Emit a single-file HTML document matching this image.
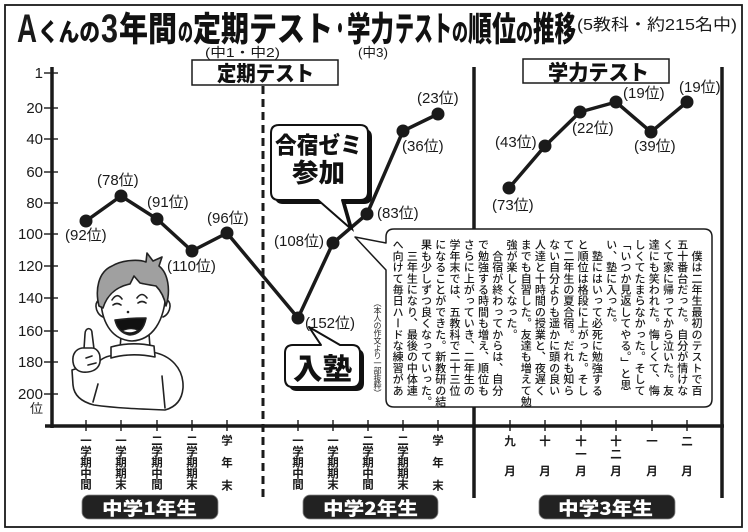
<!DOCTYPE html>
<html><head><meta charset="utf-8">
<style>
html,body{margin:0;padding:0;background:#fff;}
#c{position:relative;width:748px;height:532px;overflow:hidden;background:#fff;}
svg{position:absolute;left:0;top:0;}
.t{font-family:"Liberation Sans","Noto Sans CJK JP",sans-serif;fill:#1a1a1a;}
.h{font-family:"Noto Sans CJK JP","Liberation Sans",sans-serif;font-weight:900;fill:#111;}
.l{font-family:"Liberation Sans","Noto Sans CJK JP",sans-serif;font-size:15px;fill:#1a1a1a;}
.v{font-family:"Noto Sans CJK JP",sans-serif;font-size:11.5px;font-weight:bold;fill:#1a1a1a;text-anchor:middle;}
#essay{position:absolute;left:391px;top:239px;width:313px;height:170px;writing-mode:vertical-rl;font-family:"Noto Sans CJK JP",sans-serif;font-size:11px;font-weight:500;line-height:14.24px;letter-spacing:0.2px;color:#1a1a1a;white-space:nowrap;}
#note{position:absolute;left:372px;top:299px;width:10px;height:100px;writing-mode:vertical-rl;font-family:"Noto Sans CJK JP",sans-serif;font-size:8px;line-height:10px;letter-spacing:-0.5px;color:#222;white-space:nowrap;}
</style></head><body>
<div id="c">
<svg width="748" height="532" viewBox="0 0 748 532" xmlns="http://www.w3.org/2000/svg">
<rect x="5" y="5" width="737" height="522" fill="#fff" stroke="#1a1a1a" stroke-width="1.8"/>

<text class="t" x="17" y="42" font-size="40" font-weight="bold" textLength="20" lengthAdjust="spacingAndGlyphs">A</text>
<text class="h" x="38" y="41" font-size="25" textLength="62" lengthAdjust="spacingAndGlyphs">くんの</text>
<text class="t" x="101" y="42" font-size="40" font-weight="bold" textLength="17" lengthAdjust="spacingAndGlyphs">3</text>
<text class="h" x="119" y="41" font-size="34" textLength="58" lengthAdjust="spacingAndGlyphs">年間</text>
<text class="h" x="178" y="41" font-size="25" textLength="15" lengthAdjust="spacingAndGlyphs">の</text>
<text class="h" x="193" y="41" font-size="34" textLength="140" lengthAdjust="spacingAndGlyphs">定期テスト</text>
<text class="h" x="333" y="41" font-size="34" textLength="14" lengthAdjust="spacingAndGlyphs">・</text>
<text class="h" x="347" y="41" font-size="34" textLength="47" lengthAdjust="spacingAndGlyphs">学力</text>
<text class="h" x="395" y="41" font-size="34" textLength="57" lengthAdjust="spacingAndGlyphs">テスト</text>
<text class="h" x="452" y="41" font-size="25" textLength="16" lengthAdjust="spacingAndGlyphs">の</text>
<text class="h" x="468" y="41" font-size="34" textLength="48" lengthAdjust="spacingAndGlyphs">順位</text>
<text class="h" x="516" y="41" font-size="25" textLength="17" lengthAdjust="spacingAndGlyphs">の</text>
<text class="h" x="533" y="41" font-size="34" textLength="43" lengthAdjust="spacingAndGlyphs">推移</text>
<text class="t" x="577" y="30" font-size="16" textLength="160" lengthAdjust="spacingAndGlyphs">(5教科・約215名中)</text>

<text class="t" x="205" y="57" font-size="13" textLength="75" lengthAdjust="spacingAndGlyphs">(中1・中2)</text>
<text class="t" x="358" y="57" font-size="13" textLength="30" lengthAdjust="spacingAndGlyphs">(中3)</text>

<rect x="192" y="60" width="146" height="25" fill="#fff" stroke="#1a1a1a" stroke-width="1.5"/>
<text class="h" x="217" y="81" font-size="21" textLength="97" lengthAdjust="spacingAndGlyphs">定期テスト</text>
<rect x="523" y="59" width="146" height="24" fill="#fff" stroke="#1a1a1a" stroke-width="1.5"/>
<text class="h" x="548" y="80" font-size="21" textLength="101" lengthAdjust="spacingAndGlyphs">学力テスト</text>

<line x1="52" y1="67" x2="52" y2="428" stroke="#1a1a1a" stroke-width="3.5"/>
<line x1="45" y1="426" x2="724" y2="426" stroke="#1a1a1a" stroke-width="3.5"/>
<line x1="474" y1="67" x2="474" y2="498" stroke="#1a1a1a" stroke-width="3.5"/>
<line x1="722" y1="67" x2="722" y2="498" stroke="#1a1a1a" stroke-width="3.5"/>
<line x1="263" y1="86" x2="263" y2="498" stroke="#1a1a1a" stroke-width="3" stroke-dasharray="8,5"/>

<g stroke="#1a1a1a" stroke-width="1.4">
<line x1="44" y1="73" x2="58" y2="73"/>
<line x1="44" y1="108" x2="58" y2="108"/>
<line x1="44" y1="139" x2="58" y2="139"/>
<line x1="44" y1="172" x2="58" y2="172"/>
<line x1="44" y1="203" x2="58" y2="203"/>
<line x1="44" y1="234" x2="58" y2="234"/>
<line x1="44" y1="266" x2="58" y2="266"/>
<line x1="44" y1="298" x2="58" y2="298"/>
<line x1="44" y1="331" x2="58" y2="331"/>
<line x1="44" y1="362" x2="58" y2="362"/>
<line x1="44" y1="394" x2="58" y2="394"/>
<line x1="86" y1="420" x2="86" y2="431"/>
<line x1="121" y1="420" x2="121" y2="431"/>
<line x1="157" y1="420" x2="157" y2="431"/>
<line x1="192" y1="420" x2="192" y2="431"/>
<line x1="227" y1="420" x2="227" y2="431"/>
<line x1="298" y1="420" x2="298" y2="431"/>
<line x1="333" y1="420" x2="333" y2="431"/>
<line x1="368" y1="420" x2="368" y2="431"/>
<line x1="403" y1="420" x2="403" y2="431"/>
<line x1="438" y1="420" x2="438" y2="431"/>
<line x1="510" y1="420" x2="510" y2="431"/>
<line x1="545" y1="420" x2="545" y2="431"/>
<line x1="581" y1="420" x2="581" y2="431"/>
<line x1="616" y1="420" x2="616" y2="431"/>
<line x1="652" y1="420" x2="652" y2="431"/>
<line x1="687" y1="420" x2="687" y2="431"/>
</g>
<g class="l" text-anchor="end">
<text x="43" y="78">1</text>
<text x="43" y="113">20</text>
<text x="43" y="144">40</text>
<text x="43" y="177">60</text>
<text x="43" y="208">80</text>
<text x="43" y="239">100</text>
<text x="43" y="271">120</text>
<text x="43" y="303">140</text>
<text x="43" y="336">160</text>
<text x="43" y="367">180</text>
<text x="43" y="399">200</text>
<text x="43" y="413" font-size="13">位</text>
</g>

<g stroke="#222" stroke-width="1.6" stroke-linecap="round" stroke-linejoin="round">
<path d="M98,362 C104,357 110,355 114,356 L152,352 C170,355 184,368 183,388 C182,400 176,407 165,410 C140,409 115,408 94,405 C82,402 74,396 73,385 L72,370 Z" fill="#fff"/>
<path d="M98,384 L93,402 M162,376 L165,408" fill="none"/>
<path d="M84,349 L85,334 C85,327 92,327 92,333 L94,349" fill="#fff"/>
<path d="M82,348 C76,349 72,354 73,362 C74,370 80,373 88,372 C96,371 101,366 100,358 C100,352 96,348 92,348 Z" fill="#fff"/>
<path d="M86,358 L92,356 M88,365 L96,363" fill="none"/>
<path d="M121,336 L120,349 L150,347 L149,334 Z" fill="#fff"/>
<path d="M111,347 C125,343 140,343 154,346 L155,357 C140,354 125,354 111,358 Z" fill="#fff"/>
<path d="M101,300 C94,299 94,313 103,317 M165,300 C172,299 172,313 163,317" fill="#fff"/>
<path d="M101,290 C99,322 112,340 132,341 C152,340 165,322 166,290 C160,268 140,262 132,262 C115,262 103,272 101,290 Z" fill="#fff"/>
<path d="M99,306 C95,290 98,272 112,266 C122,260 138,259 146,262 L147,253 L153,261 L162,257 L159,266 C168,273 171,290 166,306 C164,296 160,290 156,286 C150,285 144,284 140,283 L134,276 L130,284 C120,286 108,292 103,308 Z" fill="#a0a0a0"/>
<path d="M112,300 Q117,292 122,299 M113,305 Q117,302 121,305 M137,298 Q142,291 147,298 M138,303 Q142,300 146,303" fill="none"/>
<circle cx="128" cy="312" r="1.3" fill="#222" stroke="none"/>
<path d="M115,320 Q130,318 146,318 Q143,334 130,335 Q118,333 115,320 Z" fill="#111"/>
<path d="M122,331 Q130,327 138,330 Q131,335 122,331 Z" fill="#fff" stroke-width="1"/>
</g>

<polyline points="86,221 121,196 157,219 192,251 227,233 298,318 333,243 367,214 403,131 438,114" fill="none" stroke="#1a1a1a" stroke-width="3.5" stroke-linejoin="round"/>
<polyline points="509,188 545,146 580,112 616,102 651,132 687,102" fill="none" stroke="#1a1a1a" stroke-width="3.5" stroke-linejoin="round"/>
<g fill="#1a1a1a">
<circle cx="86" cy="221" r="6.5"/><circle cx="121" cy="196" r="6.5"/><circle cx="157" cy="219" r="6.5"/>
<circle cx="192" cy="251" r="6.5"/><circle cx="227" cy="233" r="6.5"/><circle cx="298" cy="318" r="6.5"/>
<circle cx="333" cy="243" r="6.5"/><circle cx="367" cy="214" r="6.5"/><circle cx="403" cy="131" r="6.5"/>
<circle cx="438" cy="114" r="6.5"/>
<circle cx="509" cy="188" r="6.5"/><circle cx="545" cy="146" r="6.5"/><circle cx="580" cy="112" r="6.5"/>
<circle cx="616" cy="102" r="6.5"/><circle cx="651" cy="132" r="6.5"/><circle cx="687" cy="102" r="6.5"/>
</g>

<g class="l">
<text x="65" y="240">(92位)</text>
<text x="97" y="185">(78位)</text>
<text x="147" y="207">(91位)</text>
<text x="167" y="271">(110位)</text>
<text x="207" y="223">(96位)</text>
<text x="305" y="328">(152位)</text>
<text x="274" y="246">(108位)</text>
<text x="377" y="218">(83位)</text>
<text x="402" y="151">(36位)</text>
<text x="417" y="103">(23位)</text>
<text x="492" y="210">(73位)</text>
<text x="495" y="147">(43位)</text>
<text x="572" y="133">(22位)</text>
<text x="623" y="98">(19位)</text>
<text x="634" y="151">(39位)</text>
<text x="679" y="92">(19位)</text>
</g>

<path transform="translate(4,4)" d="M279,125 H360 Q368,125 368,133 V192 Q368,200 360,200 H342 L350,228 L318,200 H279 Q271,200 271,192 V133 Q271,125 279,125 Z" fill="#111"/>
<path d="M279,125 H360 Q368,125 368,133 V192 Q368,200 360,200 H342 L350,228 L318,200 H279 Q271,200 271,192 V133 Q271,125 279,125 Z" fill="#fff" stroke="#111" stroke-width="2" stroke-linejoin="round"/>
<text class="h" x="275" y="153" font-size="23" textLength="87" lengthAdjust="spacingAndGlyphs">合宿ゼミ</text>
<text class="h" x="292" y="182" font-size="26" textLength="53" lengthAdjust="spacingAndGlyphs">参加</text>

<path transform="translate(4,4)" d="M293,345 H321 L309,327 L340,345 H352 Q360,345 360,353 V379 Q360,387 352,387 H293 Q285,387 285,379 V353 Q285,345 293,345 Z" fill="#111"/>
<path d="M293,345 H321 L309,327 L340,345 H352 Q360,345 360,353 V379 Q360,387 352,387 H293 Q285,387 285,379 V353 Q285,345 293,345 Z" fill="#fff" stroke="#111" stroke-width="2" stroke-linejoin="round"/>
<text class="h" x="293" y="379" font-size="29" textLength="59" lengthAdjust="spacingAndGlyphs">入塾</text>

<path d="M394,229 H704 Q712,229 712,237 V399 Q712,407 704,407 H394 Q386,407 386,399 V270 L355,237 L386,243 V237 Q386,229 394,229 Z" fill="#fff" stroke="#1a1a1a" stroke-width="1.5" stroke-linejoin="round"/>

<g class="v">
<text x="86" y="444.5">一</text><text x="86" y="455.5">学</text><text x="86" y="466.5">期</text><text x="86" y="477.5">中</text><text x="86" y="488.5">間</text>
<text x="121" y="444.5">一</text><text x="121" y="455.5">学</text><text x="121" y="466.5">期</text><text x="121" y="477.5">期</text><text x="121" y="488.5">末</text>
<text x="157" y="444.5">二</text><text x="157" y="455.5">学</text><text x="157" y="466.5">期</text><text x="157" y="477.5">中</text><text x="157" y="488.5">間</text>
<text x="192" y="444.5">二</text><text x="192" y="455.5">学</text><text x="192" y="466.5">期</text><text x="192" y="477.5">期</text><text x="192" y="488.5">末</text>
<text x="227" y="444.5">学</text><text x="227" y="466.5">年</text><text x="227" y="489.5">末</text>
<text x="298" y="444.5">一</text><text x="298" y="455.5">学</text><text x="298" y="466.5">期</text><text x="298" y="477.5">中</text><text x="298" y="488.5">間</text>
<text x="333" y="444.5">一</text><text x="333" y="455.5">学</text><text x="333" y="466.5">期</text><text x="333" y="477.5">期</text><text x="333" y="488.5">末</text>
<text x="368" y="444.5">二</text><text x="368" y="455.5">学</text><text x="368" y="466.5">期</text><text x="368" y="477.5">中</text><text x="368" y="488.5">間</text>
<text x="403" y="444.5">二</text><text x="403" y="455.5">学</text><text x="403" y="466.5">期</text><text x="403" y="477.5">期</text><text x="403" y="488.5">末</text>
<text x="438" y="444.5">学</text><text x="438" y="466.5">年</text><text x="438" y="489.5">末</text>
<text x="510" y="445">九</text><text x="510" y="475">月</text>
<text x="545" y="445">十</text><text x="545" y="475">月</text>
<text x="581" y="445">十</text><text x="581" y="458">一</text><text x="581" y="475">月</text>
<text x="616" y="445">十</text><text x="616" y="458">二</text><text x="616" y="475">月</text>
<text x="652" y="445">一</text><text x="652" y="475">月</text>
<text x="687" y="445">二</text><text x="687" y="475">月</text>
</g>

<rect x="82" y="495" width="136" height="24" rx="7" fill="#222" stroke="#888" stroke-width="0.8"/>
<text class="h" x="102" y="515" font-size="18" style="fill:#fff" textLength="95" lengthAdjust="spacingAndGlyphs">中学1年生</text>
<rect x="303" y="495" width="135" height="24" rx="7" fill="#222" stroke="#888" stroke-width="0.8"/>
<text class="h" x="323" y="515" font-size="18" style="fill:#fff" textLength="95" lengthAdjust="spacingAndGlyphs">中学2年生</text>
<rect x="539" y="495" width="136" height="24" rx="7" fill="#222" stroke="#888" stroke-width="0.8"/>
<text class="h" x="558" y="515" font-size="18" style="fill:#fff" textLength="95" lengthAdjust="spacingAndGlyphs">中学3年生</text>
</svg>

<div id="essay">　僕は二年生最初のテストで百<br>五十番台だった。自分が情けな<br>くて家に帰ってから泣いた。友<br>達にも笑われた。悔しくて、悔<br>しくてたまらなかった。そして<br>「いつか見返してやる。」と思<br>い、塾に入った。<br>　塾にはいって必死に勉強する<br>と順位は格段に上がった。そし<br>て二年生の夏合宿。だれも知ら<br>ない自分よりも遥かに頭の良い<br>人達と十時間の授業と、夜遅く<br>までも自習した。友達も増えて勉<br>強が楽しくなった。<br>　合宿が終わってからは、自分<br>で勉強する時間も増え、順位も<br>さらに上がっていき、二年生の<br>学年末では、五教科で二十三位<br>になることができた。新教研の結<br>果も少しずつ良くなっていった。<br>　三年生になり、最後の中体連<br>へ向けて毎日ハードな練習があ</div>
<div id="note">（本人の作文より一部抜粋）</div>
</div>
</body></html>
